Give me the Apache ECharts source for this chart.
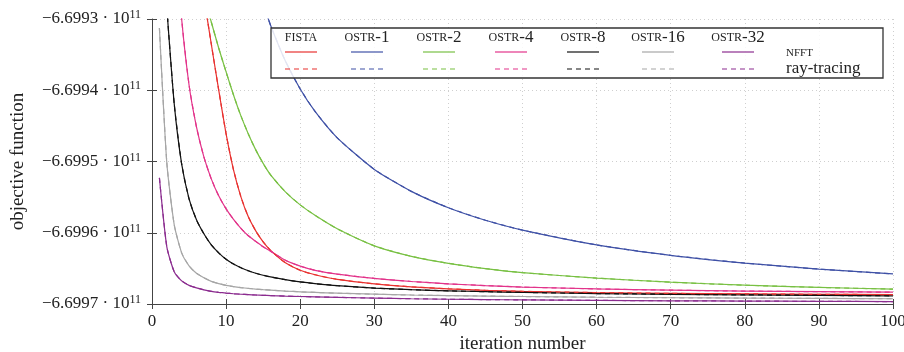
<!DOCTYPE html>
<html>
<head>
<meta charset="utf-8">
<script src="https://cdn.jsdelivr.net/npm/echarts@6/dist/echarts.min.js"></script>
<style>
html, body { margin: 0; padding: 0; background: #fff; }
#chart { width: 904px; height: 352px; }
</style>
</head>
<body>
<div id="chart"></div>
<script>
const iterations = [1, 2, 3, 4, 5, 6, 7, 8, 9, 10, 11, 12, 13, 14, 15, 16, 18, 20, 22, 25, 30, 35, 40, 45, 50, 60, 70, 80, 90, 100]

// objective function values (null = above the plotted range, not drawn)
const fista = [null, null, null, null, null, null,
  -6.6992691e11, -6.6993351e11, -6.6993996e11, -6.6994613e11, -6.6995118e11, -6.6995496e11, -6.6995777e11, -6.6995973e11,
  -6.6996128e11, -6.6996247e11, -6.6996422e11, -6.6996527e11, -6.6996590e11, -6.6996654e11, -6.6996717e11, -6.6996759e11,
  -6.6996787e11, -6.6996808e11, -6.6996822e11, -6.6996840e11, -6.6996851e11, -6.6996858e11, -6.6996864e11, -6.6996868e11]
const ostr1 = [null, null, null, null, null, null, null, null, null, null, null, null, null, null,
  -6.6992781e11, -6.6993088e11, -6.6993590e11, -6.6993982e11, -6.6994297e11, -6.6994668e11, -6.6995111e11, -6.6995419e11,
  -6.6995649e11, -6.6995825e11, -6.6995963e11, -6.6996171e11, -6.6996318e11, -6.6996426e11, -6.6996510e11, -6.6996578e11]
const ostr2 = [null, null, null, null, null, null,
  -6.6992677e11, -6.6993042e11, -6.6993407e11, -6.6993743e11, -6.6994066e11, -6.6994360e11, -6.6994613e11, -6.6994837e11,
  -6.6995027e11, -6.6995188e11, -6.6995426e11, -6.6995609e11, -6.6995756e11, -6.6995945e11, -6.6996184e11, -6.6996331e11,
  -6.6996429e11, -6.6996503e11, -6.6996560e11, -6.6996637e11, -6.6996694e11, -6.6996736e11, -6.6996767e11, -6.6996791e11]
const ostr4 = [null, null,
  -6.6991682e11, -6.6993000e11, -6.6993926e11, -6.6994515e11, -6.6994935e11, -6.6995244e11, -6.6995482e11, -6.6995665e11,
  -6.6995812e11, -6.6995938e11, -6.6996043e11, -6.6996121e11, -6.6996198e11, -6.6996258e11, -6.6996387e11, -6.6996468e11,
  -6.6996527e11, -6.6996581e11, -6.6996641e11, -6.6996684e11, -6.6996717e11, -6.6996742e11, -6.6996762e11, -6.6996788e11,
  -6.6996806e11, -6.6996819e11, -6.6996827e11, -6.6996834e11]
const ostr8 = [null,
  -6.6992846e11, -6.6994192e11, -6.6995034e11, -6.6995525e11, -6.6995819e11, -6.6996015e11, -6.6996170e11, -6.6996282e11,
  -6.6996373e11, -6.6996440e11, -6.6996492e11, -6.6996534e11, -6.6996568e11, -6.6996596e11, -6.6996620e11, -6.6996659e11,
  -6.6996690e11, -6.6996714e11, -6.6996743e11, -6.6996777e11, -6.6996799e11, -6.6996815e11, -6.6996827e11, -6.6996837e11,
  -6.6996853e11, -6.6996864e11, -6.6996872e11, -6.6996879e11, -6.6996885e11]
const ostr16 = [
  -6.6993126e11, -6.6995020e11, -6.6995889e11, -6.6996282e11, -6.6996464e11, -6.6996569e11, -6.6996632e11, -6.6996682e11,
  -6.6996714e11, -6.6996738e11, -6.6996756e11, -6.6996770e11, -6.6996781e11, -6.6996791e11, -6.6996799e11, -6.6996806e11,
  -6.6996819e11, -6.6996829e11, -6.6996837e11, -6.6996848e11, -6.6996862e11, -6.6996874e11, -6.6996882e11, -6.6996889e11,
  -6.6996895e11, -6.6996905e11, -6.6996912e11, -6.6996917e11, -6.6996921e11, -6.6996926e11]
const ostr32 = [
  -6.6995230e11, -6.6996198e11, -6.6996548e11, -6.6996675e11, -6.6996738e11, -6.6996773e11, -6.6996801e11, -6.6996822e11,
  -6.6996836e11, -6.6996847e11, -6.6996856e11, -6.6996863e11, -6.6996868e11, -6.6996874e11, -6.6996878e11, -6.6996882e11,
  -6.6996889e11, -6.6996895e11, -6.6996900e11, -6.6996907e11, -6.6996917e11, -6.6996926e11, -6.6996933e11, -6.6996938e11,
  -6.6996942e11, -6.6996949e11, -6.6996955e11, -6.6996959e11, -6.6996963e11, -6.6996966e11]

// the ray-tracing runs lie on top of the NFFT runs at this scale
const nfftRuns = [fista, ostr1, ostr2, ostr4, ostr8, ostr16, ostr32]
const rayRuns = [fista, ostr1, ostr2, ostr4, ostr8, ostr16, ostr32]

const methods = ['FISTA', 'OSTR-1', 'OSTR-2', 'OSTR-4', 'OSTR-8', 'OSTR-16', 'OSTR-32']
const variants = ['NFFT', 'ray-tracing']
const yTicks = { min: -6.6997e11, max: -6.6993e11, step: 1e7 }
const xTicks = { min: 0, max: 100, step: 10 }

const colors = ['#e8312f', '#3f51a6', '#78c043', '#e2338a', '#111111', '#a6a6a6', '#8b2c8f']
const FONT = 'Liberation Serif'

let ch = echarts.init(document.getElementById('chart'))

let series = []
nfftRuns.forEach((vals, k) => {
  series.push({
    name: methods[k] + ' ' + variants[0],
    type: 'line',
    data: iterations.map((x, i) => [x, vals[i]]),
    symbol: 'none',
    smooth: 0.2,
    lineStyle: { color: colors[k], width: 1.2 },
    z: 2
  })
})
rayRuns.forEach((vals, k) => {
  series.push({
    name: methods[k] + ' ' + variants[1],
    type: 'line',
    data: iterations.map((x, i) => [x, vals[i]]),
    symbol: 'none',
    smooth: 0.2,
    lineStyle: { color: colors[k], width: 1.2, type: [5, 4] },
    z: 3
  })
})

// hand-made legend table (pgfplots style)
let cols = [301, 367, 439, 511, 583, 658, 738]
let legend = [{
  type: 'rect', z: 100,
  shape: { x: 271, y: 28, width: 612, height: 50 },
  style: { fill: 'rgba(255,255,255,0.85)', stroke: '#333', lineWidth: 1.3 }
}]
methods.forEach((m, k) => {
  let parts = m.split('-')
  legend.push({
    type: 'text', z: 101, x: cols[k], y: 38,
    style: {
      text: parts.length > 1 ? '{sc|' + parts[0] + '}{n|-' + parts[1] + '}' : '{sc|' + m + '}',
      align: 'center', verticalAlign: 'middle',
      rich: {
        sc: { fontFamily: FONT, fontSize: 12, fill: '#222' },
        n: { fontFamily: FONT, fontSize: 17, fill: '#222' }
      }
    }
  })
  legend.push({
    type: 'line', z: 101,
    shape: { x1: cols[k] - 16, y1: 52, x2: cols[k] + 16, y2: 52 },
    style: { stroke: colors[k], lineWidth: 1.2 }
  })
  legend.push({
    type: 'line', z: 101,
    shape: { x1: cols[k] - 16, y1: 69, x2: cols[k] + 16, y2: 69 },
    style: { stroke: colors[k], lineWidth: 1.2, lineDash: [5, 4] }
  })
})
legend.push({
  type: 'text', z: 101, x: 786, y: 53,
  style: { text: variants[0], fontFamily: FONT, fontSize: 11, fill: '#222', verticalAlign: 'middle' }
})
legend.push({
  type: 'text', z: 101, x: 786, y: 69,
  style: { text: variants[1], fontFamily: FONT, fontSize: 17, fill: '#222', verticalAlign: 'middle' }
})

let gridLine = { show: true, lineStyle: { color: '#cfcfcf', width: 1, type: [1, 3] } }

let option = {
  animation: false,
  textStyle: { fontFamily: FONT },
  grid: { left: 152, right: 11, top: 19, bottom: 48, containLabel: false, outerBoundsMode: 'none' },
  xAxis: [
    {
      type: 'value', position: 'bottom',
      min: xTicks.min, max: xTicks.max, interval: xTicks.step,
      name: 'iteration number', nameLocation: 'middle', nameGap: 30,
      nameTextStyle: { fontFamily: FONT, fontSize: 19, color: '#222' },
      axisLine: { show: true, lineStyle: { color: '#444', width: 1 } },
      axisTick: { show: true, length: 5, lineStyle: { color: '#444' } },
      axisLabel: { margin: 9, fontFamily: FONT, fontSize: 17, color: '#222' },
      splitLine: gridLine
    },
    {
      type: 'value', position: 'bottom',
      min: xTicks.min, max: xTicks.max, interval: xTicks.step,
      axisLine: { show: false },
      axisTick: { show: true, inside: true, length: 5, lineStyle: { color: '#444' } },
      axisLabel: { show: false },
      splitLine: { show: false }
    }
  ],
  yAxis: [
    {
      type: 'value', position: 'left',
      min: yTicks.min, max: yTicks.max, interval: yTicks.step,
      name: 'objective function', nameLocation: 'middle', nameGap: 124,
      nameTextStyle: { fontFamily: FONT, fontSize: 19, color: '#222' },
      axisLine: { show: true, lineStyle: { color: '#444', width: 1 } },
      axisTick: { show: true, length: 5, lineStyle: { color: '#444' } },
      axisLabel: {
        margin: 11,
        formatter: v => '{m|' + (v / 1e11).toFixed(4).replace('-', '\u2212') + ' \u00b7 10}{s|11}',
        rich: {
          m: { fontFamily: FONT, fontSize: 17, color: '#222', lineHeight: 20 },
          s: { fontFamily: FONT, fontSize: 12, color: '#222', lineHeight: 20, verticalAlign: 'top', padding: [0, 0, 6, 0] }
        }
      },
      splitLine: gridLine
    },
    {
      type: 'value', position: 'left',
      min: yTicks.min, max: yTicks.max, interval: yTicks.step,
      axisLine: { show: false },
      axisTick: { show: true, inside: true, length: 5, lineStyle: { color: '#444' } },
      axisLabel: { show: false },
      splitLine: { show: false }
    }
  ],
  graphic: legend,
  series: series
}
ch.setOption(option)
</script>
</body>
</html>
